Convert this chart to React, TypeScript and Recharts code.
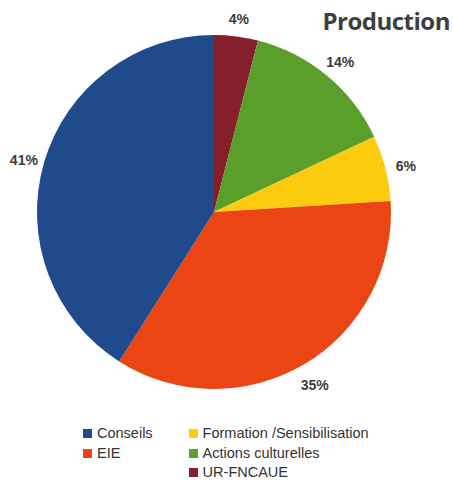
import React from 'react';
import { PieChart, Pie, Cell, Legend } from 'recharts';

const categories = ['UR-FNCAUE', 'Actions culturelles', 'Formation /Sensibilisation', 'EIE', 'Conseils'];
const shares = [4, 14, 6, 35, 41];
const colors = ['#861f2c', '#5a9f2a', '#fdcb0e', '#ea4513', '#1f4b8c'];

// legend laid out in two columns, as in the original
const legendColumns = [
  ['Conseils', 'EIE'],
  ['Formation /Sensibilisation', 'Actions culturelles', 'UR-FNCAUE'],
];

const data = categories.map((name, i) => ({ name, value: shares[i], color: colors[i] }));

const RADIAN = Math.PI / 180;

interface LabelProps {
  cx: number;
  cy: number;
  midAngle: number;
  outerRadius: number;
  value: number;
}

function renderLabel({ cx, cy, midAngle, outerRadius, value }: LabelProps): React.ReactNode {
  const r = outerRadius + 21;
  const x = cx + r * Math.cos(-midAngle * RADIAN);
  const y = cy + r * Math.sin(-midAngle * RADIAN) + 3;
  return (
    <text
      x={x}
      y={y}
      textAnchor="middle"
      dominantBaseline="central"
      fill="#3c3c3c"
      fontSize={14}
      fontWeight="bold"
      fontFamily="'Liberation Sans', Arial, sans-serif"
    >
      {`${value}%`}
    </text>
  );
}

function TwoColumnLegend(): React.ReactNode {
  const colorOf = (name: string) => data.find((d) => d.name === name)?.color;
  return (
    <div style={{ display: 'flex', gap: 36, fontFamily: "'Liberation Sans', Arial, sans-serif", fontSize: 14.5, color: '#333' }}>
      {legendColumns.map((col, ci) => (
        <div key={ci}>
          {col.map((name) => (
            <div key={name} style={{ display: 'flex', alignItems: 'center', height: 19.5, lineHeight: '17px' }}>
              <span style={{ width: 9, height: 9, background: colorOf(name), marginRight: 5, display: 'inline-block' }} />
              {name}
            </div>
          ))}
        </div>
      ))}
    </div>
  );
}

export default function App(): React.ReactNode {
  return (
    <div style={{ position: 'absolute', left: 0, top: 0, width: 453, height: 480, background: '#fff' }}>
      <div
        style={{
          position: 'absolute',
          right: 3,
          top: 4,
          fontFamily: "'Open Sans', sans-serif",
          fontWeight: 700,
          fontSize: 24,
          letterSpacing: -0.5,
          color: '#3a3f3f',
          zIndex: 2,
        }}
      >
        Production
      </div>
      <PieChart width={453} height={480} margin={{ top: 0, right: 0, bottom: 0, left: 0 }}>
        <Pie
          data={data}
          dataKey="value"
          nameKey="name"
          cx={214}
          cy={212}
          outerRadius={177}
          startAngle={90}
          endAngle={-270}
          stroke="none"
          label={renderLabel}
          labelLine={false}
          isAnimationActive={false}
        >
          {data.map((entry, index) => (
            <Cell key={`cell-${index}`} fill={entry.color} />
          ))}
        </Pie>
        <Legend
          content={<TwoColumnLegend />}
          wrapperStyle={{ position: 'absolute', left: 83, top: 424, width: 'auto' }}
        />
      </PieChart>
    </div>
  );
}
